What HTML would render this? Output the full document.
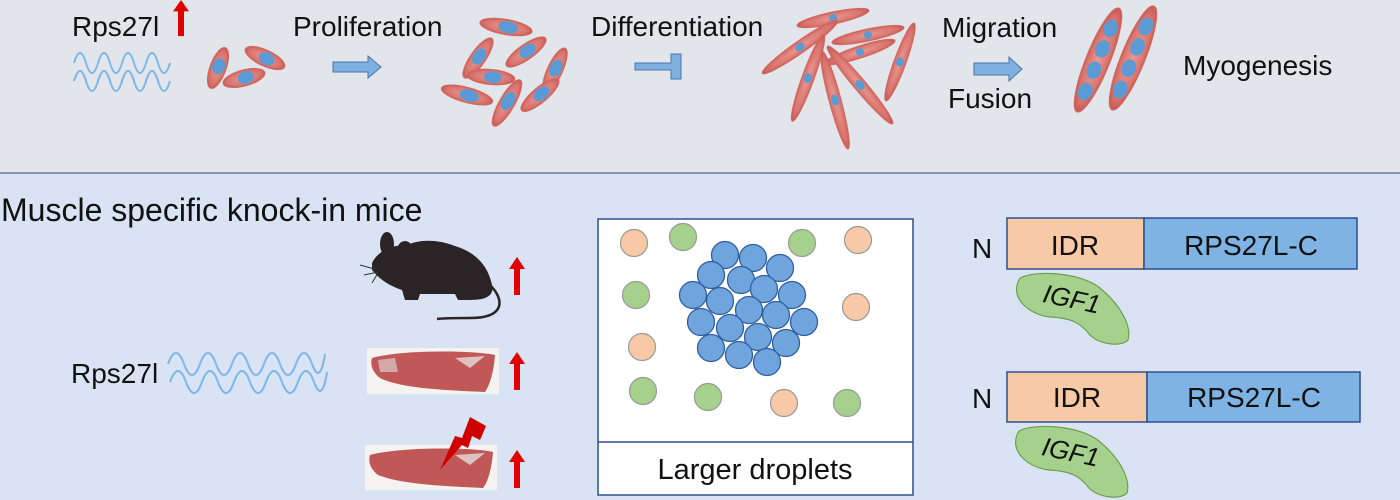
<!DOCTYPE html>
<html><head><meta charset="utf-8"><style>
html,body{margin:0;padding:0;width:1400px;height:500px;overflow:hidden;background:#dae3f3}
svg{display:block}
text{font-family:"Liberation Sans",sans-serif;fill:#111}
</style></head><body>
<svg width="1400" height="500" viewBox="0 0 1400 500" xmlns="http://www.w3.org/2000/svg">
<defs>
<radialGradient id="cg" cx="50%" cy="50%" r="50%"><stop offset="0" stop-color="#e89a92"/><stop offset="0.8" stop-color="#d9736c"/><stop offset="1" stop-color="#c65a55"/></radialGradient>
<g id="cell"><ellipse cx="0" cy="0" rx="24" ry="9" fill="url(#cg)" stroke="#d36a64" stroke-width="1"/><ellipse cx="2" cy="0" rx="9" ry="7" fill="#5b9bd5"/></g>
<g id="lcell"><ellipse cx="0" cy="0" rx="46" ry="6" fill="url(#cg)" stroke="#d36a64" stroke-width="1"/><ellipse cx="0" cy="0" rx="5" ry="4" fill="#5b9bd5"/></g>
<g id="up"><path d="M0,0 L-8,12 L-3,12 L-3,38 L3,38 L3,12 L8,12Z" fill="#e00000"/></g>
</defs>
<rect x="0" y="0" width="1400" height="173" fill="#e2e5ea"/>
<rect x="0" y="172" width="1400" height="2" fill="#7f93b4"/>

<!-- top row -->
<text x="72" y="36" font-size="28">Rps27l</text>
<use href="#up" transform="translate(181,0) scale(1,0.95)"/>
<g fill="none" stroke="#7ab6ec" stroke-width="2">
<path d="M74,63 q6,-20 12,0 t12,0 t12,0 t12,0 t12,0 t12,0 t12,0 t12,0"/>
<path d="M74,81 q6,-20 12,0 t12,0 t12,0 t12,0 t12,0 t12,0 t12,0 t12,0"/>
</g>
<use href="#cell" transform="translate(218,68) rotate(-70) scale(0.9)"/>
<use href="#cell" transform="translate(265,58) rotate(25) scale(0.9)"/>
<use href="#cell" transform="translate(244,78) rotate(-15) scale(0.9)"/>
<text x="293" y="36" font-size="28">Proliferation</text>
<path d="M333,62 h35 v-6 l13,11 l-13,11 v-6 h-35z" fill="#7fb0e0" stroke="#4a76b0" stroke-width="1"/>
<use href="#cell" transform="translate(506,27) rotate(10) scale(1.1,0.85)"/>
<use href="#cell" transform="translate(478,58) rotate(-55) scale(1,0.85)"/>
<use href="#cell" transform="translate(526,52) rotate(-35) scale(1,0.85)"/>
<use href="#cell" transform="translate(555,70) rotate(-65) scale(1,0.85)"/>
<use href="#cell" transform="translate(491,77) rotate(5) scale(1,0.85)"/>
<use href="#cell" transform="translate(467,95) rotate(15) scale(1.1,0.85)"/>
<use href="#cell" transform="translate(507,103) rotate(-60) scale(1.1,0.85)"/>
<use href="#cell" transform="translate(540,95) rotate(-40) scale(1,0.85)"/>
<text x="591" y="36" font-size="28">Differentiation</text>
<path d="M635,63 h36 v-9 h10 v25 h-10 v-9 h-36z" fill="#7fb0e0" stroke="#4a76b0" stroke-width="1"/>
<use href="#lcell" transform="translate(833,18) rotate(-12) scale(0.8,1)"/>
<use href="#lcell" transform="translate(800,47) rotate(-35)"/>
<use href="#lcell" transform="translate(868,35) rotate(-12) scale(0.8,1)"/>
<use href="#lcell" transform="translate(860,52) rotate(-18) scale(0.8,1)"/>
<use href="#lcell" transform="translate(900,62) rotate(-70) scale(0.9,1)"/>
<use href="#lcell" transform="translate(808,78) rotate(-70)"/>
<use href="#lcell" transform="translate(835,100) rotate(-105) scale(1.1,1)"/>
<use href="#lcell" transform="translate(860,85) rotate(-130) scale(1.1,1)"/>
<text x="942" y="37" font-size="28">Migration</text>
<path d="M974,63 h35 v-6 l13,12 l-13,12 v-6 h-35z" fill="#7fb0e0" stroke="#4a76b0" stroke-width="1"/>
<text x="948" y="108" font-size="28">Fusion</text>
<g transform="translate(1098,60) rotate(-68)"><ellipse rx="56" ry="12" fill="url(#cg)" stroke="#d36a64"/><ellipse cx="-34" rx="9" ry="7" fill="#5b9bd5"/><ellipse cx="-11" rx="9" ry="7" fill="#5b9bd5"/><ellipse cx="12" rx="9" ry="7" fill="#5b9bd5"/><ellipse cx="34" rx="9" ry="7" fill="#5b9bd5"/></g>
<g transform="translate(1133,58) rotate(-68)"><ellipse rx="56" ry="12" fill="url(#cg)" stroke="#d36a64"/><ellipse cx="-34" rx="9" ry="7" fill="#5b9bd5"/><ellipse cx="-11" rx="9" ry="7" fill="#5b9bd5"/><ellipse cx="12" rx="9" ry="7" fill="#5b9bd5"/><ellipse cx="34" rx="9" ry="7" fill="#5b9bd5"/></g>
<text x="1183" y="75" font-size="28">Myogenesis</text>

<!-- bottom left -->
<text x="1" y="221" font-size="32">Muscle specific knock-in mice</text>
<g fill="#2a2426">
<path d="M372,263 C378,250 395,244 405,246 C420,238 440,240 455,246 C475,252 488,265 492,285 C494,295 488,300 470,300 L458,300 L455,294 L420,294 L418,300 L405,300 L402,290 C390,286 380,280 372,270Z"/>
<ellipse cx="387" cy="244" rx="7" ry="12"/>
<ellipse cx="405" cy="251" rx="8" ry="10"/>
<path d="M490,285 C505,300 505,318 470,318 C455,318 445,318 437,319" fill="none" stroke="#2a2426" stroke-width="2.5"/>
</g>
<g stroke="#333" stroke-width="1"><line x1="360" y1="265" x2="378" y2="270"/><line x1="364" y1="275" x2="378" y2="272"/><line x1="372" y1="283" x2="378" y2="273"/></g>
<use href="#up" transform="translate(517,257)"/>
<text x="71" y="383" font-size="28">Rps27l</text>
<g fill="none" stroke="#7ab6ec" stroke-width="2">
<path d="M168,364 q8,-22 16,0 t16,0 t16,0 t16,0 t16,0 t16,0 t16,0 t16,0 t16,0 t13,-10"/>
<path d="M170,382 q8,-22 16,0 t16,0 t16,0 t16,0 t16,0 t16,0 t16,0 t16,0 t16,0 t13,-10"/>
</g>
<rect x="367" y="348" width="132" height="46" fill="#f4f3f2"/>
<path d="M372,358 C400,350 470,350 495,355 C494,370 490,385 485,392 C440,390 400,388 380,378 C372,372 370,364 372,358Z" fill="#c05858"/>
<path d="M378,360 L395,358 L398,372 L380,372Z" fill="#ddd" opacity="0.6"/>
<path d="M455,358 L485,356 L470,368Z" fill="#eee" opacity="0.7"/>
<use href="#up" transform="translate(517,352)"/>
<rect x="365" y="445" width="132" height="45" fill="#f4f3f2"/>
<path d="M370,455 C400,447 470,447 493,452 C492,467 488,482 483,488 C440,486 400,484 378,475 C370,469 368,461 370,455Z" fill="#c05858"/>
<path d="M455,455 L485,453 L470,465Z" fill="#eee" opacity="0.7"/>
<path d="M486,426 L470,417 L462,438 L455,436 L440,470 L462,445 L468,448 L472,436 L480,440Z" fill="#d00000"/>
<use href="#up" transform="translate(517,450)"/>

<!-- droplets box -->
<rect x="598" y="219" width="315" height="276" fill="#fff" stroke="#2f4f8f" stroke-width="1.5"/>
<line x1="598" y1="442" x2="913" y2="442" stroke="#2f4f8f" stroke-width="1.5"/>
<text x="755" y="479" font-size="29" text-anchor="middle">Larger droplets</text>
<g stroke="#999" stroke-width="1.2">
<circle cx="634" cy="243" r="13.5" fill="#f8c9a6"/>
<circle cx="683" cy="237" r="13.5" fill="#a5d18d"/>
<circle cx="802" cy="243" r="13.5" fill="#a5d18d"/>
<circle cx="858" cy="240" r="13.5" fill="#f8c9a6"/>
<circle cx="636" cy="295" r="13.5" fill="#a5d18d"/>
<circle cx="856" cy="307" r="13.5" fill="#f8c9a6"/>
<circle cx="642" cy="347" r="13.5" fill="#f8c9a6"/>
<circle cx="643" cy="391" r="13.5" fill="#a5d18d"/>
<circle cx="708" cy="397" r="13.5" fill="#a5d18d"/>
<circle cx="784" cy="403" r="13.5" fill="#f8c9a6"/>
<circle cx="847" cy="403" r="13.5" fill="#a5d18d"/>
</g>
<g fill="#6fa4dd" stroke="#2f5fa0" stroke-width="1.3">
<circle cx="725" cy="255" r="13.5"/><circle cx="753" cy="258" r="13.5"/><circle cx="780" cy="268" r="13.5"/>
<circle cx="711" cy="275" r="13.5"/><circle cx="741" cy="280" r="13.5"/><circle cx="764" cy="289" r="13.5"/>
<circle cx="792" cy="295" r="13.5"/><circle cx="693" cy="295" r="13.5"/><circle cx="720" cy="301" r="13.5"/>
<circle cx="749" cy="310" r="13.5"/><circle cx="776" cy="315" r="13.5"/><circle cx="804" cy="322" r="13.5"/>
<circle cx="701" cy="322" r="13.5"/><circle cx="730" cy="328" r="13.5"/><circle cx="758" cy="337" r="13.5"/>
<circle cx="786" cy="343" r="13.5"/><circle cx="711" cy="348" r="13.5"/><circle cx="739" cy="355" r="13.5"/>
<circle cx="767" cy="362" r="13.5"/>
</g>

<!-- protein bars -->
<text x="972" y="258" font-size="28">N</text>
<rect x="1007" y="218" width="137" height="51" fill="#f8c9a6" stroke="#2f4f8f" stroke-width="1.5"/>
<rect x="1144" y="218" width="213" height="51" fill="#7fb3e3" stroke="#2f4f8f" stroke-width="1.5"/>
<text x="1075" y="255" font-size="28" text-anchor="middle">IDR</text>
<text x="1251" y="255" font-size="28" text-anchor="middle">RPS27L-C</text>
<path d="M1020,278 C1035,270 1080,272 1100,288 C1120,305 1132,325 1128,340 C1122,347 1100,345 1090,335 C1080,322 1070,318 1050,317 C1030,315 1008,298 1020,278Z" fill="#a5d18d" stroke="#6aa050" stroke-width="1.2"/>
<text x="1072" y="308" font-size="26" font-style="italic" text-anchor="middle" transform="rotate(12 1072 298)">IGF1</text>

<text x="972" y="408" font-size="28">N</text>
<rect x="1007" y="372" width="140" height="50" fill="#f8c9a6" stroke="#2f4f8f" stroke-width="1.5"/>
<rect x="1147" y="372" width="213" height="50" fill="#7fb3e3" stroke="#2f4f8f" stroke-width="1.5"/>
<text x="1077" y="407" font-size="28" text-anchor="middle">IDR</text>
<text x="1254" y="407" font-size="28" text-anchor="middle">RPS27L-C</text>
<path d="M1019,431 C1034,423 1079,425 1099,441 C1119,458 1131,478 1127,493 C1121,500 1099,498 1089,488 C1079,475 1069,471 1049,470 C1029,468 1007,451 1019,431Z" fill="#a5d18d" stroke="#6aa050" stroke-width="1.2"/>
<text x="1071" y="461" font-size="26" font-style="italic" text-anchor="middle" transform="rotate(12 1071 451)">IGF1</text>
</svg>
</body></html>
